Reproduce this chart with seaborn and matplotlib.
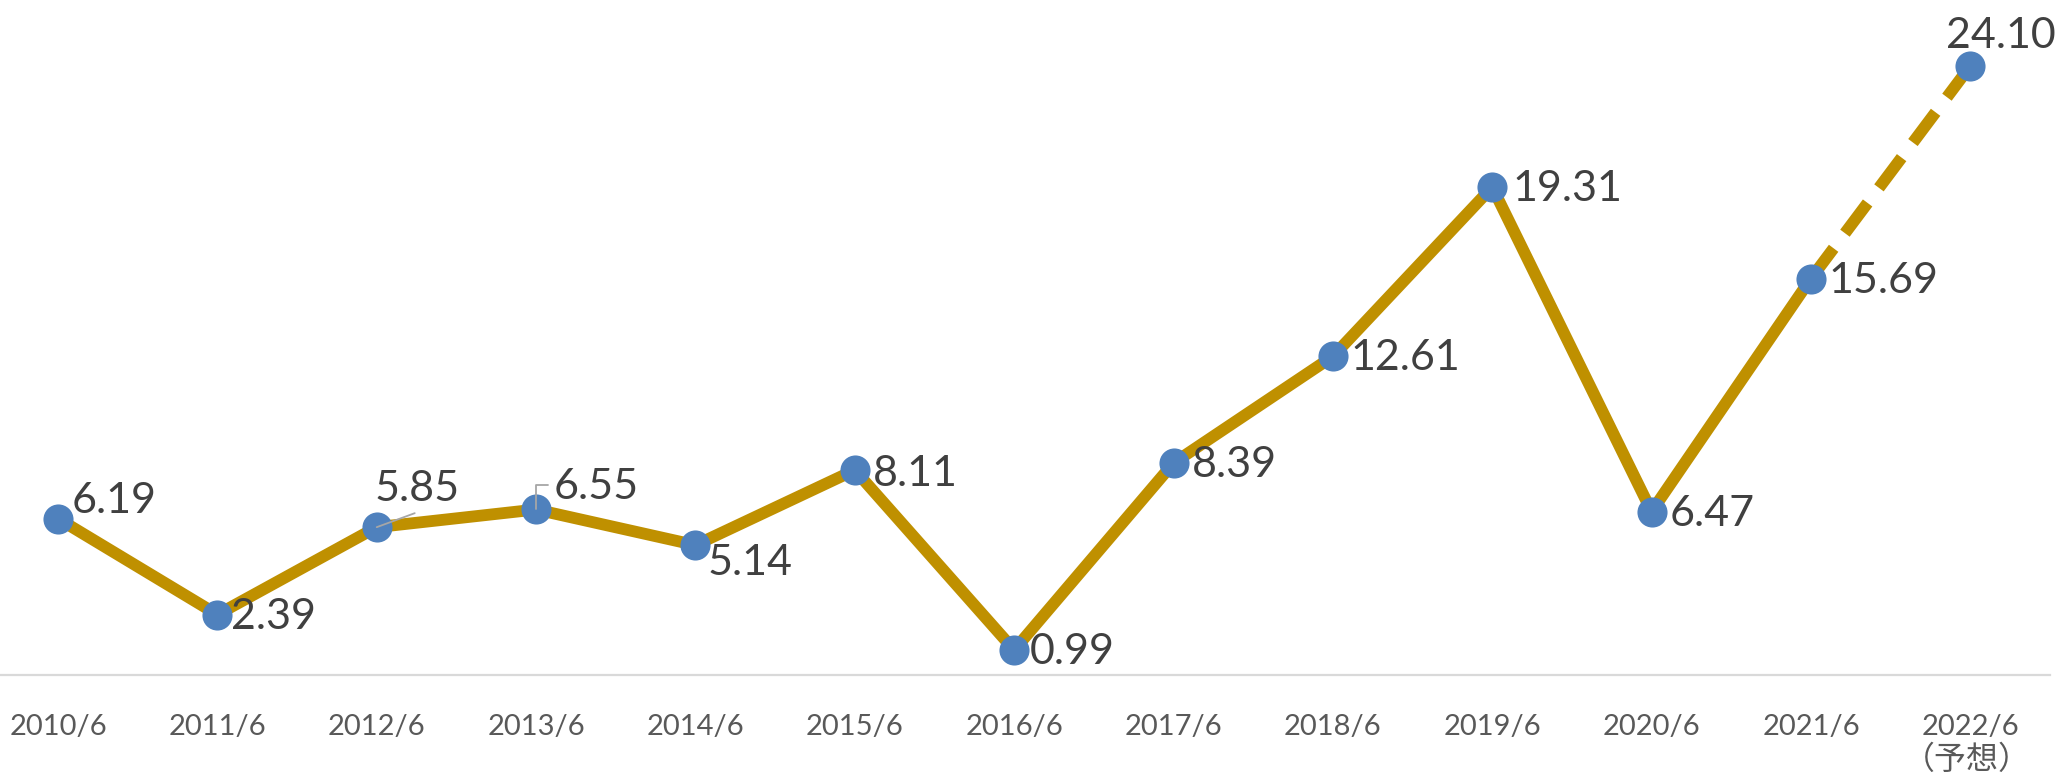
import matplotlib
matplotlib.use("Agg")
import matplotlib.pyplot as plt
import matplotlib.transforms as mtransforms
import seaborn as sns
import pandas as pd
import numpy as np

# data
periods = ["2010/6", "2011/6", "2012/6", "2013/6", "2014/6", "2015/6", "2016/6",
           "2017/6", "2018/6", "2019/6", "2020/6", "2021/6", "2022/6"]
forecast_note = "（予想）"
values = [6.19, 2.39, 5.85, 6.55, 5.14, 8.11, 0.99, 8.39, 12.61, 19.31, 6.47, 15.69, 24.10]
forecast_from = 11  # last actual point; dashed segment after it

sns.set_theme(style="white")
plt.rcParams['font.family'] = ['Lato', 'Noto Sans CJK JP', 'DejaVu Sans']

df = pd.DataFrame({"x": np.arange(len(values)), "value": values})

line_color = "#BF9000"
marker_color = "#4F81BD"

fig = plt.figure(figsize=(20.58, 7.76), dpi=100)
ax = fig.add_axes([0, 101 / 776, 2050 / 2058, 657 / 776])

sns.lineplot(data=df.iloc[:forecast_from + 1], x="x", y="value", ax=ax,
             color=line_color, linewidth=8.5, solid_capstyle="butt", zorder=2)
sns.lineplot(data=df.iloc[forecast_from:], x="x", y="value", ax=ax,
             color=line_color, linewidth=8.5, zorder=2)
ax.lines[-1].set_dashes([3.2, 1.6])
ax.lines[-1].set_dash_capstyle("butt")
sns.scatterplot(data=df, x="x", y="value", ax=ax, color=marker_color, s=470,
                edgecolor=marker_color, linewidth=0, zorder=3, clip_on=False)

# label offsets in pixels (dx, dy)
offsets = {
    0: (14, 18), 1: (14, -2), 2: (-2, 38), 3: (18, 22), 4: (12, -18),
    5: (18, -4), 6: (16, -2), 7: (18, -2), 8: (18, -2), 9: (20, -2),
    10: (18, -2), 11: (18, -2), 12: (-24, 30),
}
for i, v in enumerate(values):
    dx, dy = offsets[i]
    ax.annotate(f"{v:.2f}", (i, v), xytext=(dx, dy), textcoords="offset pixels",
                ha="left", va="center", fontsize=31, color="#404040", zorder=4,
                annotation_clip=False)

# leader lines for the two crowded labels
ax.annotate("", (2, values[2]), xytext=(38, 14), textcoords="offset pixels",
            arrowprops=dict(arrowstyle="-", color="#A6A6A6", lw=1.3,
                            shrinkA=0, shrinkB=0), zorder=4)
ax.annotate("", (3, values[3]), xytext=(12, 24), textcoords="offset pixels",
            arrowprops=dict(arrowstyle="-", color="#A6A6A6", lw=1.3,
                            connectionstyle="angle,angleA=0,angleB=90,rad=0",
                            shrinkA=0, shrinkB=0), zorder=4)

ax.set_xlim(-0.364, 12.5)
ax.set_ylim(0, 26)
ax.set_xticks(np.arange(len(periods)))
ax.set_xticklabels(periods, fontsize=21, color="#595959", va="top")
ax.tick_params(axis="x", length=0, pad=28)
ax.set_yticks([])
ax.set_xlabel("")
ax.set_ylabel("")

# second line under the forecast tick
trans = mtransforms.blended_transform_factory(ax.transData, fig.transFigure)
ax.text(len(periods) - 1 - 0.02, 16 / 776, forecast_note, transform=trans,
        ha="center", va="center", fontsize=23, color="#595959",
        family=['Noto Sans CJK JP', 'DejaVu Sans'])

for side in ["top", "right", "left"]:
    ax.spines[side].set_visible(False)
ax.spines["bottom"].set_color("#D9D9D9")
ax.spines["bottom"].set_linewidth(1.6)
ax.patch.set_alpha(0)

fig.savefig("out.png", dpi=100)
